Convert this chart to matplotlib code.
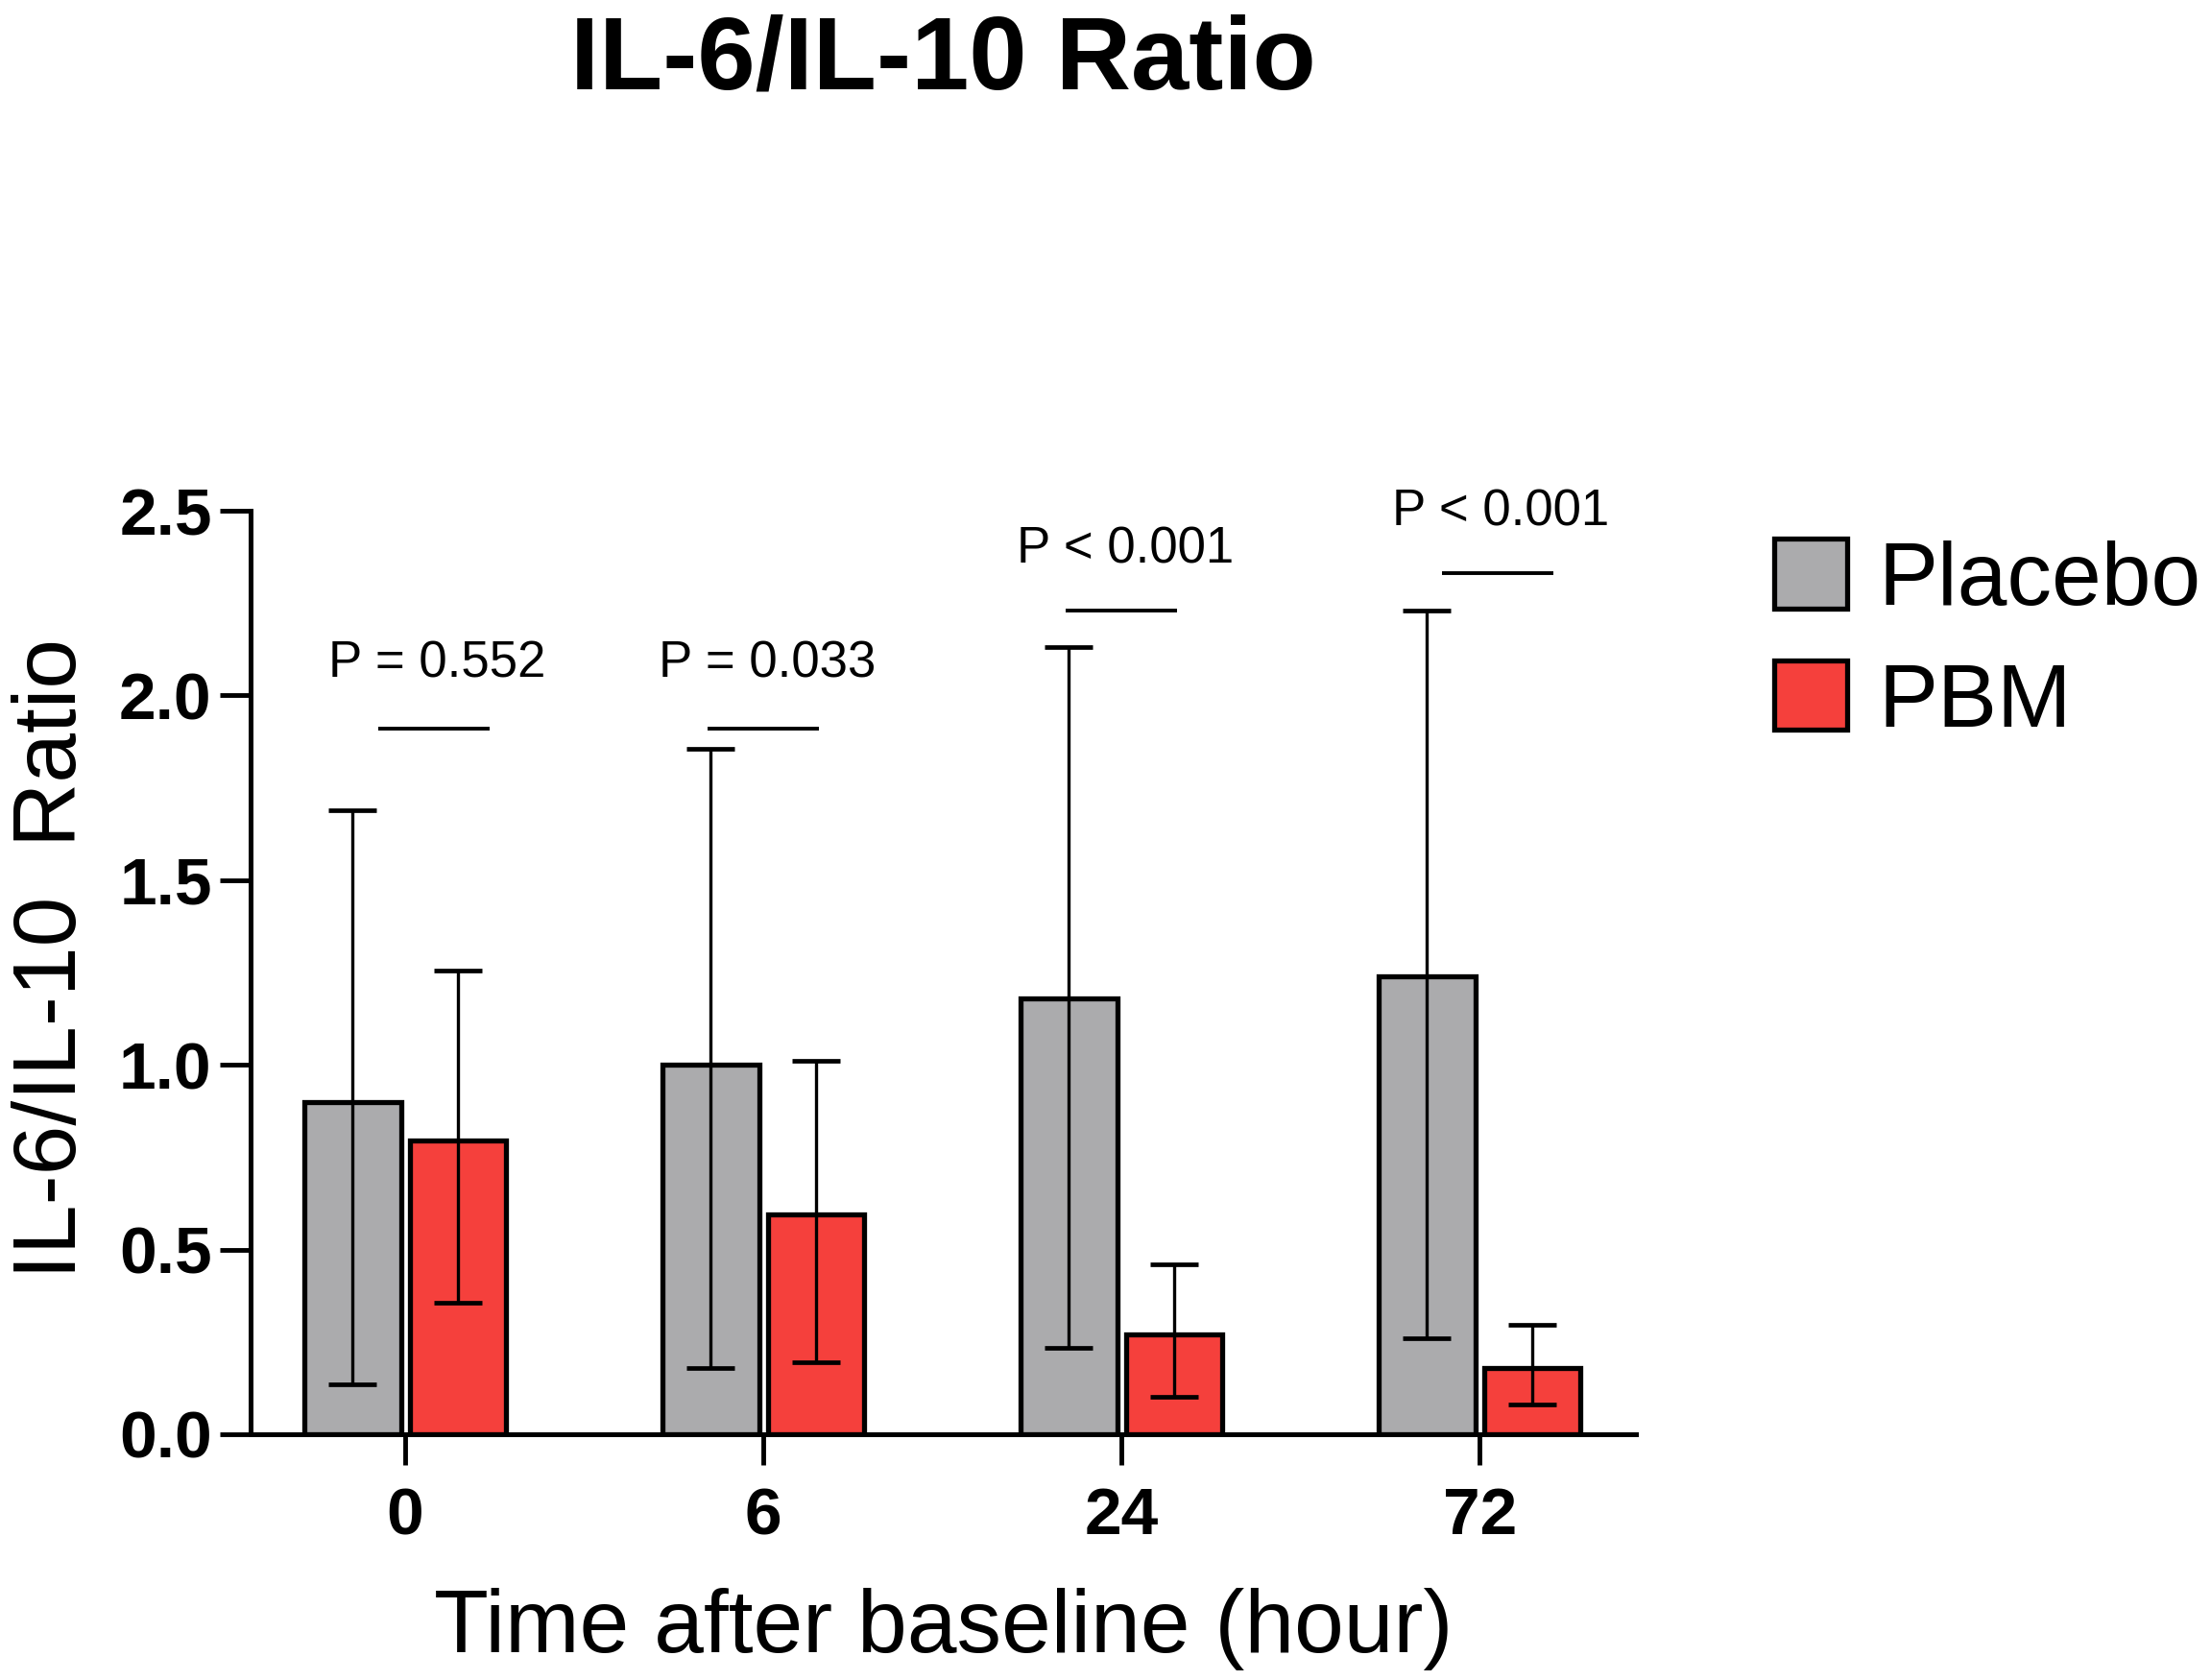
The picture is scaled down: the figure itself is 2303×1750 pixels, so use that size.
import matplotlib
matplotlib.use("Agg")
import matplotlib.pyplot as plt
import numpy as np

# data
times = ["0", "6", "24", "72"]
placebo_mean = [0.90, 1.00, 1.18, 1.24]
placebo_hi = [1.69, 1.855, 2.13, 2.23]
placebo_lo = [0.135, 0.18, 0.235, 0.26]
pbm_mean = [0.795, 0.595, 0.27, 0.18]
pbm_hi = [1.255, 1.01, 0.46, 0.295]
pbm_lo = [0.355, 0.195, 0.10, 0.08]
p_labels = ["P = 0.552", "P = 0.033", "P < 0.001", "P < 0.001"]
p_line_y = [1.91, 1.91, 2.23, 2.33]
p_text_y = [2.085, 2.085, 2.395, 2.495]
p_shift = [0.08, 0.0, 0.0, 0.05]

GRAY = "#ABABAD"
RED = "#F5403C"

plt.rcParams["font.family"] = ["Liberation Sans", "DejaVu Sans"]

fig = plt.figure(figsize=(23.03, 17.5), dpi=100)
ax = fig.add_axes([0.1133, 0.1463, 0.6267, 0.5497])

x = np.arange(len(times))
off = 0.147
w = 0.27

b1 = ax.bar(x - off, placebo_mean, w, color=GRAY, edgecolor="black",
            linewidth=3.8, label="Placebo", zorder=2)
b2 = ax.bar(x + off, pbm_mean, w, color=RED, edgecolor="black",
            linewidth=3.8, label="PBM", zorder=2)

def draw_err(xs, mean, hi, lo):
    mean = np.array(mean)
    yerr = [mean - np.array(lo), np.array(hi) - mean]
    ax.errorbar(xs, mean, yerr=yerr, fmt="none", ecolor="black",
                elinewidth=2.4, capsize=18, capthick=3.4, zorder=3)

draw_err(x - off, placebo_mean, placebo_hi, placebo_lo)
draw_err(x + off, pbm_mean, pbm_hi, pbm_lo)

# p-value annotations
for i, lab in enumerate(p_labels):
    cx = x[i] + p_shift[i]
    ax.plot([cx - 0.155, cx + 0.155], [p_line_y[i]] * 2, color="black",
            linewidth=2.8, solid_capstyle="butt", zorder=3)
    ax.text(cx + 0.01, p_text_y[i], lab, ha="center", va="center",
            fontsize=38, family=["Liberation Sans Narrow", "Liberation Sans"])

ax.set_xlim(-0.432, 3.437)
ax.set_ylim(0, 2.5)
ax.set_yticks([0.0, 0.5, 1.0, 1.5, 2.0, 2.5])
ax.set_yticklabels(["0.0", "0.5", "1.0", "1.5", "2.0", "2.5"])
ax.set_xticks(x)
ax.set_xticklabels(times)

for lab in ax.get_xticklabels() + ax.get_yticklabels():
    lab.set_fontweight("bold")
    lab.set_fontsize(50)

ax.tick_params(axis="both", length=23, width=3.5, color="black")
ax.tick_params(axis="y", pad=6)
ax.tick_params(axis="x", pad=16)

for s in ["top", "right"]:
    ax.spines[s].set_visible(False)
for s in ["left", "bottom"]:
    ax.spines[s].set_linewidth(3.6)

ax.set_xlabel("Time after baseline (hour)", fontsize=67, labelpad=30)
ax.set_ylabel("IL-6/IL-10  Ratio", fontsize=67, labelpad=18)
ax.yaxis.set_label_coords(-0.113, 0.515)

fig.text(0.4264, 0.963, "IL-6/IL-10 Ratio", ha="center", va="center",
         fontsize=78, fontweight="bold")

ax.legend(handles=[b1, b2], loc="center left",
          bbox_to_anchor=(0.8024, 0.618), bbox_transform=fig.transFigure,
          frameon=False, fontsize=67, handlelength=0.82, handleheight=0.82,
          handletextpad=0.35, labelspacing=0.42, borderpad=0,
          borderaxespad=0)

fig.savefig("out.png", dpi=100)
